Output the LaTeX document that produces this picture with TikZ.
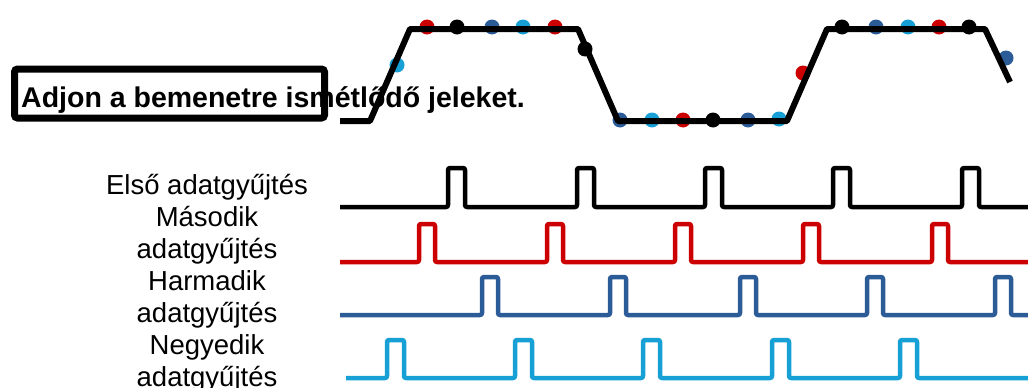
\documentclass[tikz,border=0pt]{standalone}
\usepackage{fontspec}
\setmainfont{Liberation Sans}
\definecolor{cRed}{RGB}{204,0,0}
\definecolor{cDark}{RGB}{44,92,152}
\definecolor{cLight}{RGB}{22,160,214}
\begin{document}
\begin{tikzpicture}[x=1pt,y=-1pt,
  lbl/.style={anchor=base,inner sep=0pt,font=\fontsize{27.5}{32}\selectfont},
  dotR/.style={fill=cRed},
  dotK/.style={fill=black},
  dotD/.style={fill=cDark},
  dotL/.style={fill=cLight},
  wave/.style={draw=black,line width=6pt,line join=round},
  pulse/.style={line width=4.5pt,rounded corners=2pt,line join=round}]
\useasboundingbox[fill=white] (0,0) rectangle (1028,388);

% title
\node[anchor=base west,inner sep=0pt,font=\fontsize{28.5}{32}\selectfont\bfseries] (title) at (21,107) {Adjon a bemenetre ismétlődő jeleket.};
\node[draw=black,line width=7pt,rounded corners=3pt,minimum width=310pt,minimum height=49pt,inner sep=0pt] (box) at (169.5,93.5) {};

% sample dots
\foreach \x/\y/\s in {397/65/dotL,427/27/dotR,457/27/dotK,492/27/dotD,523/27/dotL,555/27/dotR,
  585/49/dotK,620/120/dotD,652/120/dotL,683/120/dotR,713/120/dotK,748/120/dotD,779/119/dotL,
  803/73/dotR,842/27/dotK,876/27/dotD,908/27/dotL,939/27/dotR,969/27/dotK,1006/58/dotD}
  \path[\s] (\x,\y) circle[radius=7.5];

% input waveform
\coordinate (w0) at (340,121);
\coordinate (w1) at (370,121);
\coordinate (w2) at (410,29);
\coordinate (w3) at (578,29);
\coordinate (w4) at (618,121);
\coordinate (w5) at (787,121);
\coordinate (w6) at (827,29);
\coordinate (w7) at (985,29);
\coordinate (w8) at (1010,82);
\draw[wave] (w0) -- (w1) -- (w2) -- (w3) -- (w4) -- (w5) -- (w6) -- (w7) -- (w8);

% labels
\node[lbl] (l1) at (207,194) {Első adatgyűjtés};
\node[lbl] (l2) at (207,226) {Második};
\node[lbl] (l3) at (207,258) {adatgyűjtés};
\node[lbl] (l4) at (207,290) {Harmadik};
\node[lbl] (l5) at (207,322) {adatgyűjtés};
\node[lbl] (l6) at (207,354) {Negyedik};
\node[lbl] (l7) at (207,386) {adatgyűjtés};

% pulse trains
\draw[pulse,black] (340,207) foreach \p in {448,577,705,833,962} { -- (\p,207) -- (\p,168) -- (\p+17,168) -- (\p+17,207) } -- (1028,207);
\draw[pulse,cRed] (340,262) foreach \p in {419,547,675,803,932} { -- (\p,262) -- (\p,224) -- (\p+16,224) -- (\p+16,262) } -- (1028,262);
\draw[pulse,cDark] (340,315) foreach \p in {482,610,740,867,995} { -- (\p,315) -- (\p,277) -- (\p+16,277) -- (\p+16,315) } -- (1028,315);
\draw[pulse,cLight] (346,378) foreach \p in {387,515,643,772,900} { -- (\p,378) -- (\p,340) -- (\p+17,340) -- (\p+17,378) } -- (1028,378);
\end{tikzpicture}
\end{document}
